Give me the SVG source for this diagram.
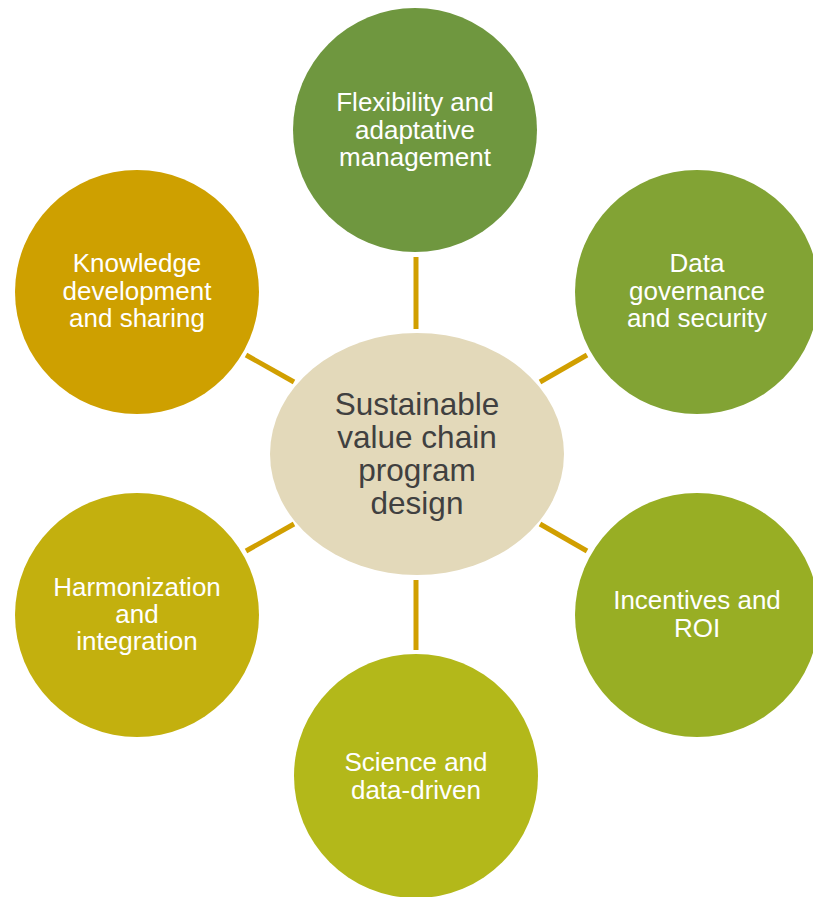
<svg xmlns="http://www.w3.org/2000/svg" width="813" height="897" viewBox="0 0 813 897">
  <style>
    .lbl { font-family: "Liberation Sans", Arial, sans-serif; font-size: 26px; fill: #ffffff; text-anchor: middle; }
    .hub { font-family: "Liberation Sans", Arial, sans-serif; font-size: 31.5px; fill: #404040; text-anchor: middle; }
    .link { stroke: #D19F00; stroke-width: 5; fill: none; }
  </style>
  <rect width="813" height="897" fill="#ffffff"/>

  <g id="connectors">
    <line class="link" x1="416" y1="257" x2="416" y2="329"/>
    <line class="link" x1="416" y1="580" x2="416" y2="650"/>
    <line class="link" x1="246" y1="355" x2="294" y2="382"/>
    <line class="link" x1="587" y1="355" x2="540" y2="382"/>
    <line class="link" x1="246" y1="551" x2="294" y2="524"/>
    <line class="link" x1="587" y1="551" x2="540" y2="524"/>
  </g>

  <g id="hub">
    <ellipse cx="417" cy="454" rx="147" ry="121" fill="#E3D9BA"/>
    <text class="hub" x="417" y="415">Sustainable</text>
    <text class="hub" x="417" y="448">value chain</text>
    <text class="hub" x="417" y="481">program</text>
    <text class="hub" x="417" y="514">design</text>
  </g>

  <g id="flexibility">
    <circle cx="415" cy="130" r="122" fill="#6F973F"/>
    <text class="lbl" x="415" y="111">Flexibility and</text>
    <text class="lbl" x="415" y="138.5">adaptative</text>
    <text class="lbl" x="415" y="166">management</text>
  </g>

  <g id="data-governance">
    <circle cx="697" cy="292" r="122" fill="#82A334"/>
    <text class="lbl" x="697" y="272">Data</text>
    <text class="lbl" x="697" y="300">governance</text>
    <text class="lbl" x="697" y="327">and security</text>
  </g>

  <g id="incentives">
    <circle cx="697" cy="615" r="122" fill="#98AE24"/>
    <text class="lbl" x="697" y="609">Incentives and</text>
    <text class="lbl" x="697" y="637">ROI</text>
  </g>

  <g id="science">
    <circle cx="416" cy="776" r="122" fill="#B3B81A"/>
    <text class="lbl" x="416" y="771">Science and</text>
    <text class="lbl" x="416" y="799">data-driven</text>
  </g>

  <g id="harmonization">
    <circle cx="137" cy="615" r="122" fill="#C3B00E"/>
    <text class="lbl" x="137" y="596">Harmonization</text>
    <text class="lbl" x="137" y="623">and</text>
    <text class="lbl" x="137" y="650">integration</text>
  </g>

  <g id="knowledge">
    <circle cx="137" cy="292" r="122" fill="#CEA000"/>
    <text class="lbl" x="137" y="272">Knowledge</text>
    <text class="lbl" x="137" y="300">development</text>
    <text class="lbl" x="137" y="327">and sharing</text>
  </g>
</svg>
